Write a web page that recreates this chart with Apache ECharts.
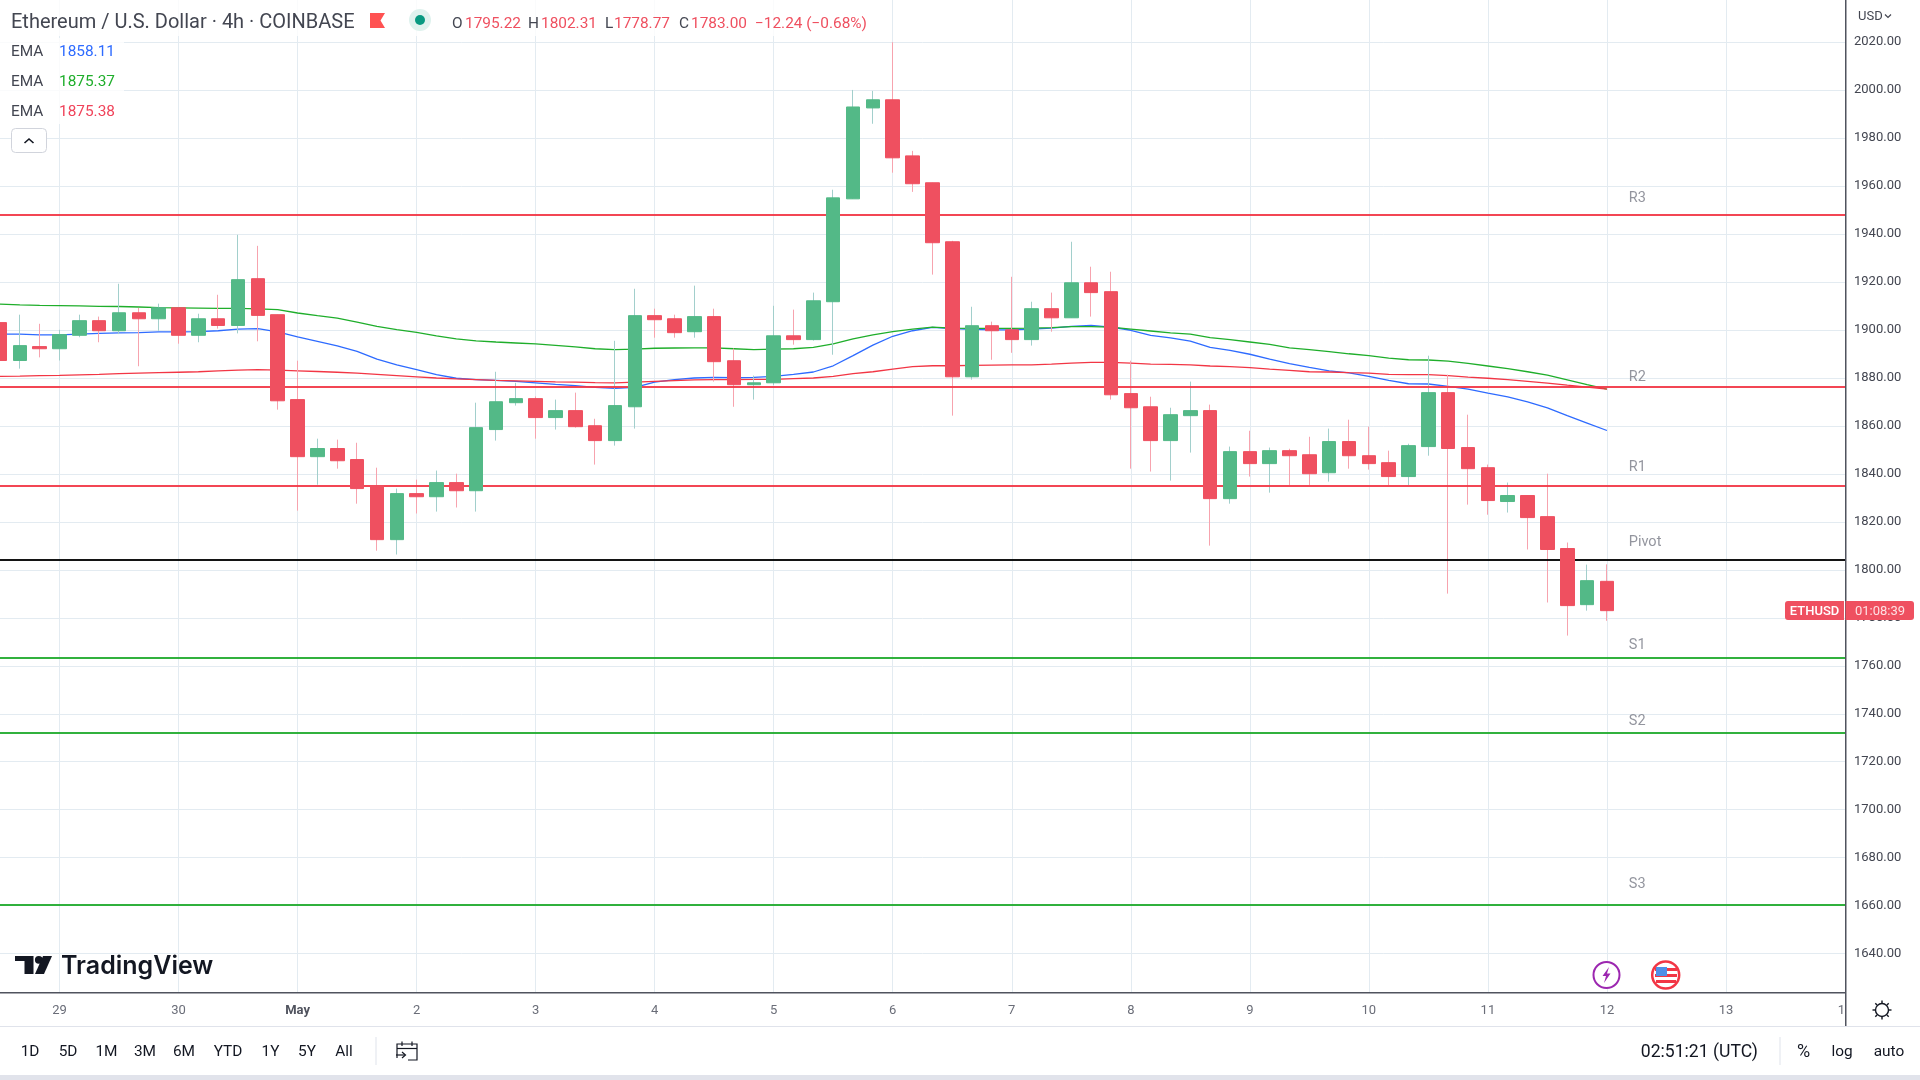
<!DOCTYPE html>
<html><head><meta charset="utf-8">
<style>html,body{margin:0;padding:0;background:#fff}#c{width:1920px;height:1080px}</style>
<script src="https://cdn.jsdelivr.net/npm/echarts@6/dist/echarts.min.js"></script>
</head><body><div id="c"></div>
<script>
const dayLabels = ['29','30','May','2','3','4','5','6','7','8','9','10','11','12','13','14'];
const priceTicks = [1640,1660,1680,1700,1720,1740,1760,1780,1800,1820,1840,1860,1880,1900,1920,1940,1960,1980,2000,2020];
const opens = [1903.1,1887.3,1893.1,1892.2,1897.8,1903.9,1899.7,1907.2,1904.7,1909.3,1897.8,1904.7,1901.9,1921.4,1906.4,1871,1847.2,1850.6,1846,1835.1,1812.6,1831.8,1830.5,1836.4,1833,1858.5,1869.7,1871.4,1863.5,1866.4,1860.1,1853.9,1868,1906,1904.7,1899.3,1905.6,1887.2,1877.2,1878,1897.6,1896,1911.8,1954.7,1992.6,1996,1972.6,1961.4,1936.8,1880.5,1901.8,1900.1,1896,1908.9,1905.1,1919.7,1916,1873.5,1868,1853.9,1864.3,1866.4,1829.7,1849.3,1844.3,1849.7,1848,1840.5,1853.5,1847.6,1844.7,1838.9,1851.4,1873.9,1851,1842.6,1828.5,1831,1822.2,1808.9,1785.5,1795.22];
const closes = [1887.3,1893.5,1892.2,1898.1,1903.9,1899.7,1907.2,1904.7,1909.3,1897.8,1904.7,1901.9,1921,1906.1,1870.5,1847.2,1850.6,1845.5,1833.9,1812.6,1831.8,1830.5,1836.4,1833,1859.3,1870.1,1871.4,1863.5,1866.4,1859.7,1853.9,1868.5,1906,1904.3,1898.9,1905.6,1886.8,1877.2,1878,1897.6,1896,1912.2,1955.1,1993,1996,1971.8,1961,1936.4,1880.5,1901.8,1899.7,1896,1908.9,1905.1,1919.7,1915.6,1873,1867.6,1853.9,1864.7,1866.4,1829.7,1849.3,1844.3,1849.7,1847.6,1840.1,1853.5,1847.6,1844.3,1838.9,1851.8,1873.9,1850.6,1842.2,1828.9,1831,1821.8,1808.5,1785.1,1795.5,1783];
const highs = [1915.4,1906.4,1902.6,1900.1,1906.4,1905.6,1919.3,1909.2,1911,1909.3,1906.8,1914.7,1939.7,1935.1,1906.4,1887.2,1854.7,1854.3,1853,1842.6,1833.9,1837.6,1841.4,1840.1,1869.7,1882.6,1878,1872.3,1871,1873.9,1863,1895.5,1917.2,1908.9,1906.4,1918.5,1908.9,1892.3,1881,1910.1,1908.5,1915.6,1958.5,2000.1,1999.7,2020,1974.7,1961.4,1937.2,1909.7,1903.5,1922.2,1911.8,1915.6,1936.8,1926.4,1924.3,1887.2,1872.2,1867.6,1878.5,1868.9,1851.4,1858,1851,1850.5,1855.5,1858.9,1862.6,1859.7,1849.7,1852.6,1889.3,1881.4,1864.7,1843.9,1836.4,1831,1840.1,1811.4,1802.2,1802.31];
const lows = [1875.1,1883.9,1888.6,1887.3,1897,1894.9,1898.3,1884.9,1899.7,1894.3,1894.9,1900.6,1898.6,1895.3,1866.8,1824.7,1835.5,1842.2,1827.6,1808,1806.4,1823.5,1824.3,1826,1824.3,1853.9,1868.5,1854.7,1858.5,1859.3,1843.9,1851.8,1858.9,1896.8,1896.8,1896.8,1878.5,1868,1871,1877,1893.9,1895.6,1889.7,1954.7,1986,1965.6,1957.6,1923.1,1864.3,1879.3,1887.6,1890.5,1893.5,1899.3,1905.1,1905.6,1871,1842.2,1841,1837.2,1848.9,1810.1,1827.6,1838.9,1832.2,1835.4,1835.4,1836.8,1842.2,1841.8,1835.4,1835.4,1847.6,1790.1,1827.2,1823,1823.9,1808.5,1786.4,1772.6,1783,1778.77];
const emaBlue = [1898.3,1898.3,1898,1898,1898.3,1898.6,1898.8,1898.9,1899.2,1899.2,1899.3,1899.7,1900.4,1900.6,1899.2,1897.1,1895.3,1893.4,1891.1,1887.9,1885.5,1883.5,1881.4,1879.9,1879.3,1879,1878.6,1878,1877.3,1876.8,1876.1,1875.7,1876.1,1878.3,1879.3,1880,1880.3,1880.1,1880.3,1880.7,1881.5,1882.5,1885.1,1889.3,1893.7,1897.4,1899.7,1901.1,1900.6,1900.3,1900.1,1900.1,1900.4,1900.8,1901.5,1901.9,1901.2,1899.9,1897.8,1896.7,1895.4,1892.8,1891.5,1889.9,1887.9,1886,1884.4,1883,1882.1,1880.7,1879,1877.6,1877.5,1876.5,1875.4,1873.7,1872.1,1870,1867.5,1864.3,1861.2,1858.11];
const emaGreen = [1910.8,1910.5,1910.3,1910.2,1910.1,1909.9,1909.8,1909.6,1909.3,1909.2,1909.1,1909,1909,1908.8,1908.5,1907.1,1906,1905,1903.3,1901.5,1900.2,1899,1897.6,1896.3,1895.5,1895,1894.6,1894.2,1893.6,1893,1892.2,1891.8,1892,1892.4,1892.5,1892.6,1892.6,1892.2,1891.8,1892,1892.2,1892.8,1894.2,1896.3,1898,1899.3,1900.4,1901.2,1900.8,1900.7,1900.7,1900.7,1900.8,1901,1901.4,1901.4,1901.2,1900.4,1899.6,1898.8,1898.3,1896.8,1896,1895,1894,1892.6,1891.8,1891,1890.1,1889.3,1888.3,1887.6,1887.5,1887,1886.1,1885,1883.9,1882.6,1881.2,1879.2,1877.2,1875.37];
const emaRed = [1880.7,1880.8,1881,1881.1,1881.3,1881.5,1881.8,1882,1882.2,1882.4,1882.6,1883,1883.3,1883.5,1883.3,1883,1882.7,1882.4,1882,1881.5,1881,1880.5,1880,1879.6,1879.3,1879,1878.8,1878.6,1878.4,1878.3,1878.1,1878,1878.3,1878.6,1878.9,1879.2,1879.3,1879.3,1879.4,1879.4,1879.7,1880,1880.7,1881.8,1882.6,1883.7,1884.7,1885.1,1885.1,1885.3,1885.4,1885.5,1885.5,1885.8,1886.2,1886.5,1886.5,1886.2,1885.8,1885.7,1885.5,1885,1884.7,1884.3,1883.7,1883.2,1882.6,1882.5,1882.2,1882,1881.5,1881.4,1881.4,1881,1880.4,1879.9,1879.3,1878.6,1877.9,1877,1876.2,1875.38];
const pivotNames = ['R3','R2','R1','Pivot','S1','S2','S3'];
const pivotValues = [1948,1876.4,1835.1,1804.3,1763.5,1732,1660.5];
const pivotColors = ['#f23645','#f23645','#f23645','#000000','#1faa2c','#1faa2c','#1faa2c'];
const pivotLabelPrices = [1954.9,1880.4,1842.6,1811.3,1768.7,1737,1669];
const pivotLabelIndex = 82;

const UI = 'Roboto, sans-serif';
const RED='#ef5060', GREEN='#53b987', RED_W='#f7a3ae', GREEN_W='#a2cfcc', GRID='#e3ebf1';

const categories = [];
for (let i=0;i<94;i++){ categories.push((i-3)%6===0 ? dayLabels[(i-3)/6] : ''); }

const wickData = opens.map((o,i)=>[o,closes[i],lows[i],highs[i]]);
const bodyData = opens.map((o,i)=>[o,closes[i],Math.min(o,closes[i]),Math.max(o,closes[i])]);
const pivotLines = pivotValues.map((v,i)=>({yAxis:v,lineStyle:{color:pivotColors[i],width:2,type:'solid',opacity:.92}}));

function T(x,y,text,fill,font,align){return {type:'text',x,y:y+1,z:30,silent:true,style:{text,fill,font:font||('15.4px '+UI),align:align||'left',verticalAlign:'middle'}};}
function R(x,y,w,h,fill,z,extra){return Object.assign({type:'rect',z:z||20,silent:true,shape:{x,y,width:w,height:h},style:{fill}},extra||{});}
function PL(points,stroke,lw,z){return {type:'polyline',z:z||30,silent:true,shape:{points},style:{stroke,fill:'none',lineWidth:lw||1}};}
function PG(points,fill,z){return {type:'polygon',z:z||30,silent:true,shape:{points},style:{fill}};}
function C(cx,cy,r,fill,stroke,lw,z){return {type:'circle',z:z||30,silent:true,shape:{cx,cy,r},style:{fill,stroke:stroke||null,lineWidth:lw||0}};}

const TXT='#434651', AX='#6a6d78', DK='#131722';
const g = [
  R(0,0,885,36,'rgba(255,255,255,.8)',5),
  R(0,38,124,86,'rgba(255,255,255,.8)',5),
  R(1846,993,74,33,'#fff',10),
  R(0,1026,1920,1,'#e0e3eb',10),
  R(0,1075,1920,5,'#e1e3eb',10),
  R(0,992,1846,1.5,'#50535e',12),
  R(1845,0,1.5,1026,'#50535e',12),
  T(11,21.5,'Ethereum / U.S. Dollar · 4h · COINBASE',TXT,'20px '+UI),
  PG([[370,13],[385,13],[380.5,20.5],[385,28],[370,28]],'#ff5252'),
  C(420,20,11,'#dff2ee'),C(420,20,5,'#089981'),
  T(452,23,'O',TXT),T(465,23,'1795.22',RED),
  T(528,23,'H',TXT),T(541,23,'1802.31',RED),
  T(605,23,'L',TXT),T(614,23,'1778.77',RED),
  T(679,23,'C',TXT),T(691,23,'1783.00',RED),
  T(755,23,'−12.24 (−0.68%)',RED),
  T(11,51.5,'EMA',TXT),T(59,51.5,'1858.11','#2e6bff'),
  T(11,81.5,'EMA',TXT),T(59,81.5,'1875.37','#1fae2b'),
  T(11,111.5,'EMA',TXT),T(59,111.5,'1875.38','#f0435a'),
  Object.assign(R(11.5,128.5,35,24,'#fff',25,{shape:{x:11.5,y:128.5,width:35,height:24,r:4}}),{style:{fill:'#fff',stroke:'#d1d4dc',lineWidth:1}}),
  PL([[24.5,143],[29,139],[33.5,143]],DK,1.6),
  T(1858,15.5,'USD',TXT,'13px '+UI),
  PL([[1885,14.5],[1888,17.5],[1891,14.5]],TXT,1.2),
  PG([[15,956],[33.5,956],[33.5,974],[24.5,974],[24.5,961],[15,961]],DK),
  C(38.8,959.8,3.9,DK),
  PG([[43,956],[52,956],[44,974],[35,974]],DK),
  T(61,965.5,'TradingView',DK,'600 25px Inter, '+UI),
  C(1606.5,975,13,'#fff','#9c27b0',2),
  PG([[1609,967],[1602.5,976],[1606,976],[1604,983],[1610.5,973.5],[1607,973.5]],'#9c27b0'),
  C(1665.7,975,13.5,'#fff','#f23645',2.5),
  R(1655,968,22,3,'#f23645',31),R(1655,974,22,3,'#f23645',31),R(1656,980,20,3,'#f23645',31),
  R(1656,967,11,9,'#4f8fe8',32),
  R(1785,601,59,19,RED,20,{shape:{x:1785,y:601,width:59,height:19,r:[3,0,0,3]}}),
  R(1845.5,601,68.5,19,RED,20,{shape:{x:1845.5,y:601,width:68.5,height:19,r:[0,3,3,0]}}),
  T(1814.5,610.5,'ETHUSD','#fff','500 13px '+UI,'center'),
  T(1880,610.5,'01:08:39','#fde0e3','13px '+UI,'center'),
  C(1882,1010,6.5,'#fff',DK,1.4),
  PL([[1882,1000.5],[1882,1003]],DK,1.4),PL([[1882,1017],[1882,1019.5]],DK,1.4),
  PL([[1872.5,1010],[1875,1010]],DK,1.4),PL([[1889,1010],[1891.5,1010]],DK,1.4),
  PL([[1875.3,1003.3],[1877,1005]],DK,1.4),PL([[1887,1015],[1888.7,1016.7]],DK,1.4),
  PL([[1888.7,1003.3],[1887,1005]],DK,1.4),PL([[1877,1015],[1875.3,1016.7]],DK,1.4),
  T(30,1051.5,'1D',DK,'15.4px '+UI,'center'),T(68,1051.5,'5D',DK,'15.4px '+UI,'center'),T(106.5,1051.5,'1M',DK,'15.4px '+UI,'center'),
  T(145,1051.5,'3M',DK,'15.4px '+UI,'center'),T(184,1051.5,'6M',DK,'15.4px '+UI,'center'),T(228,1051.5,'YTD',DK,'15.4px '+UI,'center'),
  T(270.5,1051.5,'1Y',DK,'15.4px '+UI,'center'),T(307,1051.5,'5Y',DK,'15.4px '+UI,'center'),T(344,1051.5,'All',DK,'15.4px '+UI,'center'),
  R(375.5,1037,1,28,'#e0e3eb',20),
  PL([[397,1058],[397,1044],[417,1044],[417,1060],[408,1060]],DK,1.2),
  PL([[397,1048.5],[417,1048.5]],DK,1.2),PL([[402,1041.5],[402,1046]],DK,1.2),PL([[412,1041.5],[412,1046]],DK,1.2),
  PL([[396,1055],[405,1055]],DK,1.2),PL([[402,1052],[405.5,1055],[402,1058]],DK,1.2),
  T(1758,1051.5,'02:51:21 (UTC)',DK,'17.6px '+UI,'right'),
  R(1779.5,1037,1,28,'#e0e3eb',20),
  T(1803.5,1051.5,'%',DK,'18px '+UI,'center'),T(1842,1051.5,'log',DK,'15.4px '+UI,'center'),T(1889,1051.5,'auto',DK,'15.4px '+UI,'center')
];

const chart = echarts.init(document.getElementById('c'),null,{renderer:'canvas'});
chart.setOption({
  animation:false,
  backgroundColor:'#fff',
  grid:{left:0,right:75,top:0,height:992,containLabel:false,outerBoundsMode:'none'},
  xAxis:{type:'category',data:categories,boundaryGap:false,
    axisLine:{show:false},axisTick:{show:false},
    axisLabel:{interval:0,margin:12,color:AX,fontFamily:UI,fontSize:13,hideOverlap:false,
      formatter:v=>v==='May'?'{b|May}':v,rich:{b:{fontWeight:'bold',color:'#50535e',fontFamily:UI,fontSize:13}}},
    splitLine:{show:true,interval:i=>(i-3)%6===0,lineStyle:{color:GRID,width:1}}},
  yAxis:{type:'value',position:'right',min:1624,max:2037.6,
    axisLine:{show:false},axisTick:{show:false,customValues:priceTicks},
    axisLabel:{customValues:priceTicks,inside:false,margin:9,padding:[2,0,0,0],color:TXT,fontFamily:UI,fontSize:13,formatter:v=>Number(v).toFixed(2),showMinLabel:true,showMaxLabel:true},
    splitLine:{show:true,lineStyle:{color:GRID,width:1}}},
  graphic:g,
  series:[
    {name:'EMA blue',type:'line',z:3,data:emaBlue,showSymbol:false,silent:true,lineStyle:{color:'#2e6bff',width:1.3}},
    {name:'EMA green',type:'line',z:3,data:emaGreen,showSymbol:false,silent:true,lineStyle:{color:'#1fae2b',width:1.3}},
    {name:'EMA red',type:'line',z:3,data:emaRed,showSymbol:false,silent:true,lineStyle:{color:'#f23645',width:1.3}},
    {name:'wicks',type:'candlestick',z:4,data:wickData,barWidth:1,silent:true,
      itemStyle:{color:GREEN_W,color0:RED_W,borderColor:GREEN_W,borderColor0:RED_W,borderWidth:1}},
    {name:'bodies',type:'candlestick',z:5,data:bodyData,barWidth:14,silent:true,
      itemStyle:{color:GREEN,color0:RED,borderColor:GREEN,borderColor0:RED,borderWidth:1}},
    {name:'pivots',type:'line',z:6,data:[],silent:true,
      markLine:{silent:true,symbol:'none',animation:false,label:{show:false},data:pivotLines}},
    {name:'pivot labels',type:'scatter',z:7,silent:true,symbolSize:0,
      data:pivotNames.map((n,i)=>({value:[pivotLabelIndex,pivotLabelPrices[i]],name:n})),
      label:{show:true,position:'right',distance:2,formatter:'{b}',color:'#787b86',fontFamily:UI,fontSize:14.5}}
  ]
});
</script></body></html>
